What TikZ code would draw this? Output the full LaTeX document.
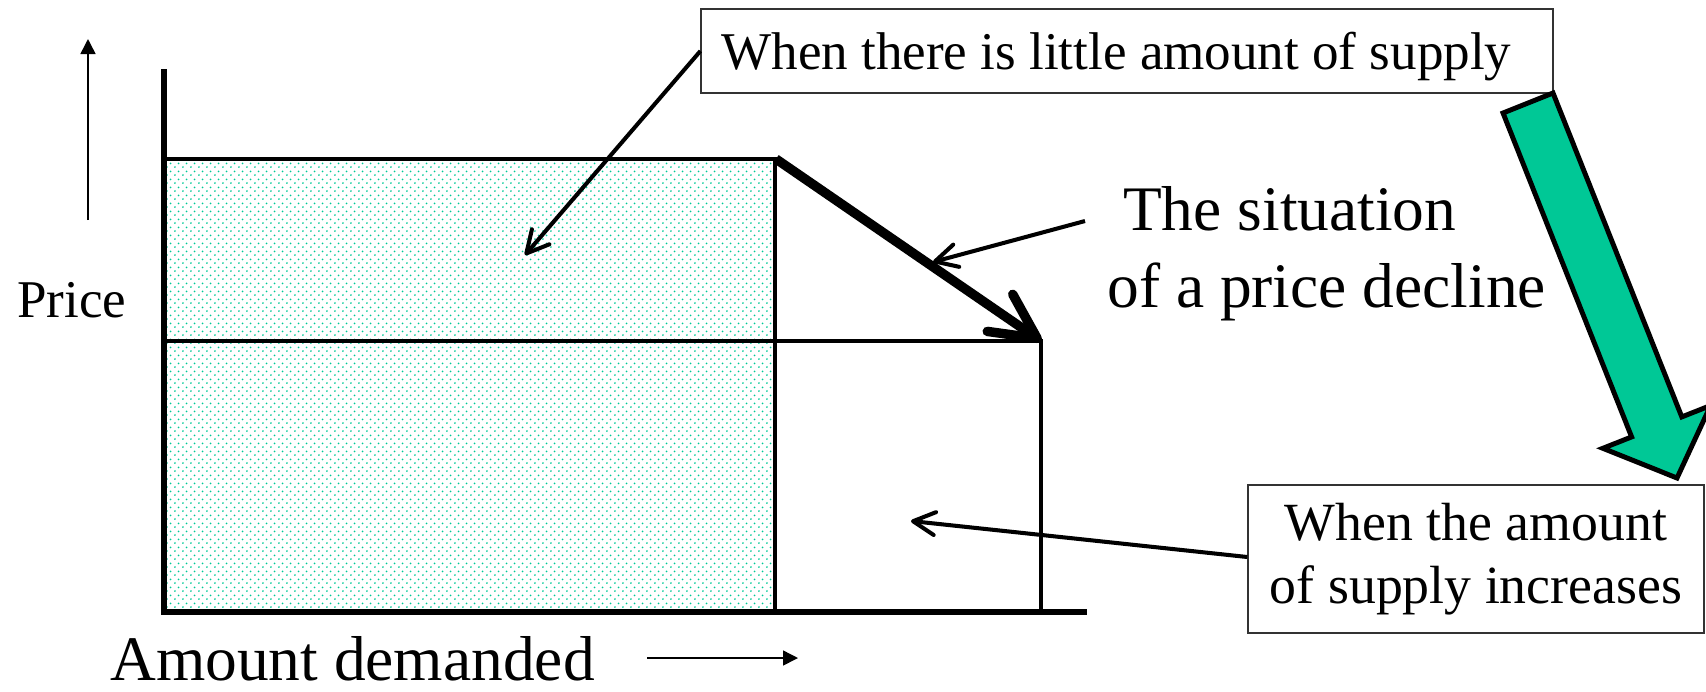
\documentclass[tikz,border=0pt]{standalone}
\usepackage{fontspec}
\setmainfont{Liberation Serif}
\usepackage{xcolor}
\usepackage{tikz}
\usetikzlibrary{arrows.meta, positioning, patterns, calc}

\definecolor{supplygreen}{RGB}{0,200,150}
\pgfdeclarepatternformonly{fine dots}{\pgfpointorigin}{\pgfqpoint{4.3pt}{4.3pt}}{\pgfqpoint{4.3pt}{4.3pt}}{%
  \pgfpathcircle{\pgfqpoint{0.6pt}{0.6pt}}{.6pt}%
  \pgfpathcircle{\pgfqpoint{2.75pt}{2.75pt}}{.6pt}%
  \pgfusepath{fill}}

\begin{document}
\begin{tikzpicture}[
    x=0.02cm, y=-0.02cm,
    notebox/.style={rectangle, draw=black!80, line width=0.8pt, fill=white, align=center, inner sep=0pt},
    bigtext/.style={font=\fontsize{36.1pt}{43.6pt}\selectfont, inner sep=0pt},
    axis/.style={line width=3.1pt},
    gridline/.style={line width=2.6pt},
    callout/.style={-{Straight Barb[length=0.44cm, width=0.46cm, round]}, line width=2.3pt},
    decline/.style={-{Straight Barb[length=0.9cm, width=0.9cm, round]}, line width=5.4pt},
    dir/.style={-{Triangle[length=0.3cm, width=0.3cm]}, line width=0.85pt},
    bigarrow/.style={fill=supplygreen, draw=black, line width=2.8pt}
]
\useasboundingbox (0,0) rectangle (1706,691);

% shaded area and graph lines
\fill[pattern=fine dots, pattern color=supplygreen] (164,159) rectangle (775,612);
\draw[axis] (164,69) -- (164,612) -- (1087,612);
\draw[gridline] (164,159) -- (775,159) -- (775,612);
\draw[gridline] (164,341) -- (1041,341) -- (1041,612);

\coordinate (peak) at (776,159);
\coordinate (drop) at (1041,341);
\draw[decline] (peak) -- (drop);

% axis labels
\node[anchor=base west, inner sep=0pt, font=\fontsize{30.2pt}{36pt}\selectfont] (price) at (17,317) {Price};
\node[anchor=base west, bigtext] (amount) at (110,680) {Amount demanded};
\draw[dir] (88,220) -- (88,39);
\draw[dir] (647,658) -- (798,658);

% notes
\node[notebox, minimum width=17.04cm, minimum height=1.68cm, text height=24pt, text depth=3pt, font=\fontsize{30.2pt}{36pt}\selectfont] (little) at (1127,51) {When there is little amount of supply\hspace*{0.4em}};
\node[notebox, minimum width=9.12cm, minimum height=2.96cm, font=\fontsize{30.6pt}{35.8pt}\selectfont] (increase) at (1476,559) {When the amount\\of supply increases};
\node[bigtext, align=left, anchor=west] (situation) at (1107,254) {\hspace*{0.25em}The situation\\of a price decline};

\coordinate (little end) at (525,255);
\coordinate (situation end) at (933,262);
\coordinate (increase end) at (911,521);
\draw[callout] (little.west) -- (little end);
\draw[callout] ([xshift=-0.44cm, yshift=0.66cm]situation.west) -- (situation end);
\draw[callout] ([yshift=0.04cm]increase.west) -- (increase end);

% supply arrow
\filldraw[bigarrow] (1503,113) -- (1553,93) -- (1681.8,416.9) -- (1710.6,405.5) -- (1677,478) -- (1602.8,448.3) -- (1631.6,436.9) -- cycle;
\end{tikzpicture}
\end{document}
